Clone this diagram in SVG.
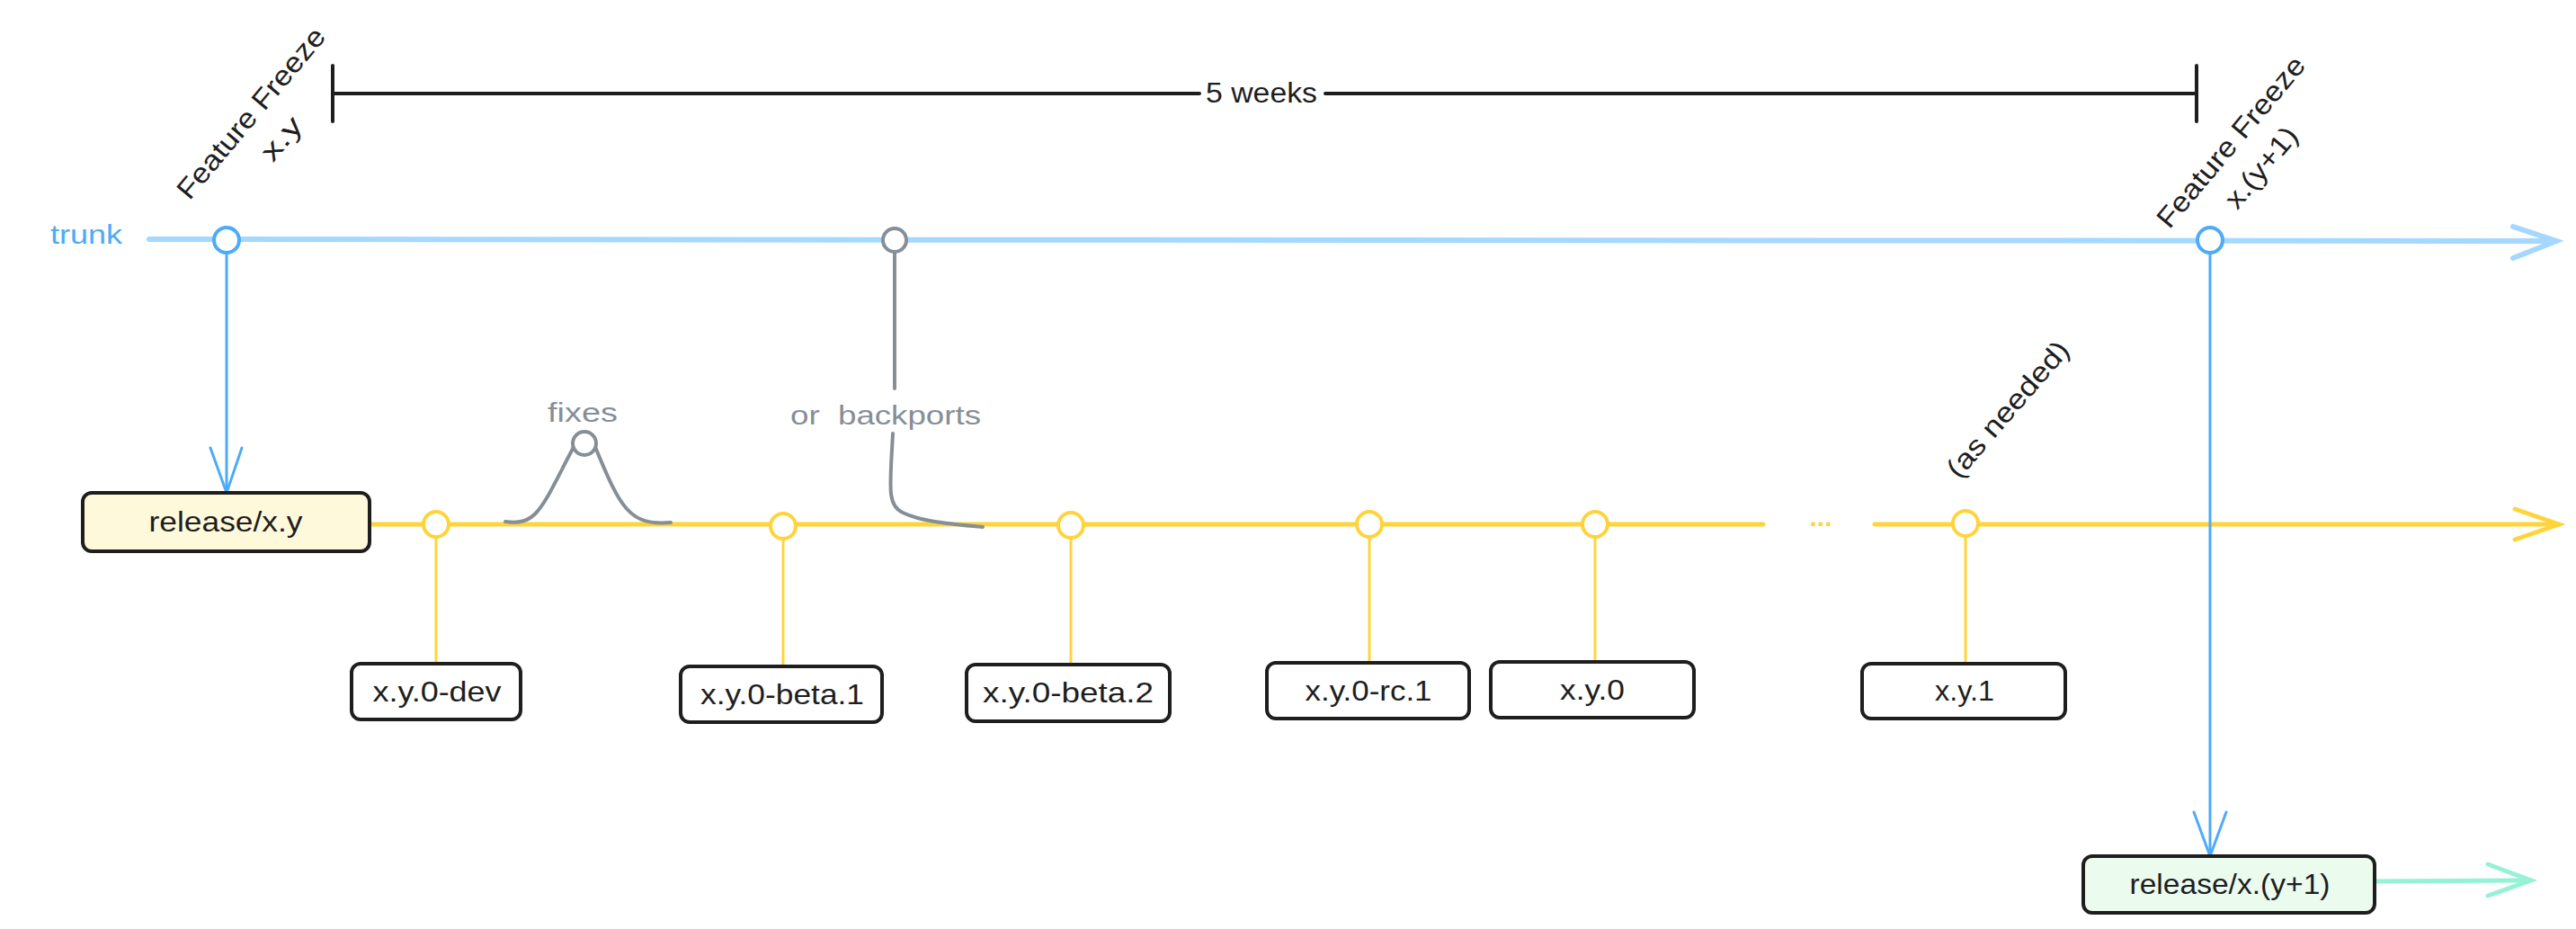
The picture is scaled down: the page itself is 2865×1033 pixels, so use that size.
<svg xmlns="http://www.w3.org/2000/svg" width="2865" height="1033" viewBox="0 0 2865 1033">
<style>
text{font-family:"Liberation Sans","DejaVu Sans",sans-serif;dominant-baseline:central}
.lbl{font-size:32px;fill:#1e1e1e;text-anchor:middle}
.hand{font-size:31px;fill:#1e1e1e;text-anchor:middle}
.gray{font-size:30px;fill:#868e96;text-anchor:middle}
.box{fill:#ffffff;stroke:#1e1e1e;stroke-width:4}
.trunk{fill:none;stroke:#a5d8ff;stroke-width:6;stroke-linecap:round}
.blue{fill:none;stroke:#4dabf7;stroke-width:3;stroke-linecap:round;stroke-linejoin:round}
.yel{fill:none;stroke:#ffd43b;stroke-width:5;stroke-linecap:round}
.yelthin{fill:none;stroke:#ffd43b;stroke-width:3}
.grayline{fill:none;stroke:#868e96;stroke-width:4;stroke-linecap:round}
.black{fill:none;stroke:#1e1e1e;stroke-width:4;stroke-linecap:round}
.green{fill:none;stroke:#96f2d7;stroke-width:5;stroke-linecap:round}
.cy{fill:#ffffff;stroke:#ffd43b;stroke-width:4}
.cb{fill:#ffffff;stroke:#4dabf7;stroke-width:4}
.cg{fill:#ffffff;stroke:#868e96;stroke-width:4}
</style>
<rect width="2865" height="1033" fill="#ffffff"/>

<g id="connectors">
  <!-- trunk line -->
  <line class="trunk" x1="166" y1="266" x2="2843" y2="268"/>
  <polyline class="trunk" points="2795,252 2843,268 2795,287"/>
  <!-- release line -->
  <line class="yel" x1="414" y1="583" x2="1961" y2="583"/>
  <line class="yel" x1="2085" y1="583" x2="2846" y2="583"/>
  <polyline class="yel" points="2797,566 2846,583 2797,600"/>
  <!-- blue branch arrows -->
  <line class="blue" x1="252" y1="283" x2="252" y2="548"/>
  <polyline class="blue" points="234,498 252,548 269,498"/>
  <line class="blue" x1="2458" y1="283" x2="2458" y2="952"/>
  <polyline class="blue" points="2440,903 2458,952 2476,903"/>
  <!-- green continuation -->
  <line class="green" x1="2642" y1="980" x2="2815" y2="979"/>
  <polyline class="green" points="2767,961 2815,979 2767,996"/>
  <!-- tag stems -->
  <line class="yelthin" x1="485" y1="598" x2="485" y2="738"/>
  <line class="yelthin" x1="871" y1="599" x2="871" y2="741"/>
  <line class="yelthin" x1="1191" y1="598" x2="1191" y2="739"/>
  <line class="yelthin" x1="1523" y1="598" x2="1523" y2="737"/>
  <line class="yelthin" x1="1774" y1="598" x2="1774" y2="736"/>
  <line class="yelthin" x1="2186" y1="597" x2="2186" y2="738"/>
  <!-- fixes / backports -->
  <path class="grayline" d="M562 580 C598 585 602 565 638 497"/>
  <path class="grayline" d="M662 497 C690 565 700 585 746 581"/>
  <line class="grayline" x1="995" y1="281" x2="995" y2="432"/>
  <path class="grayline" d="M993 482 C990 540 986 562 1004 570 C1025 580 1060 583 1093 586"/>
  <!-- 5 weeks bracket -->
  <line class="black" x1="370" y1="73" x2="370" y2="135"/>
  <line class="black" x1="370" y1="104" x2="1334" y2="104"/>
  <line class="black" x1="1474" y1="104" x2="2443" y2="104"/>
  <line class="black" x1="2443" y1="73" x2="2443" y2="135"/>
</g>

<g id="commits">
  <circle class="cb" cx="252" cy="267" r="14"/>
  <circle class="cg" cx="995" cy="267" r="13"/>
  <circle class="cb" cx="2458" cy="267" r="14"/>
  <circle class="cg" cx="650" cy="493" r="13"/>
  <circle class="cy" cx="485" cy="583" r="14"/>
  <circle class="cy" cx="871" cy="585" r="14"/>
  <circle class="cy" cx="1191" cy="584" r="14"/>
  <circle class="cy" cx="1523" cy="583" r="14"/>
  <circle class="cy" cx="1774" cy="583" r="14"/>
  <circle class="cy" cx="2186" cy="582" r="14"/>
</g>

<g id="label-trunk"><text x="56" y="261" style="font-size:29px;fill:#4dabf7" textLength="80" lengthAdjust="spacingAndGlyphs">trunk</text></g>
<g id="label-5weeks"><text class="hand" x="1403" y="103" textLength="124" lengthAdjust="spacingAndGlyphs">5 weeks</text></g>
<g id="label-ff-xy" transform="translate(296,140) rotate(-50)">
  <text class="hand" x="0" y="-22" textLength="238" lengthAdjust="spacingAndGlyphs">Feature Freeze</text>
  <text class="hand" x="0" y="22" textLength="54" lengthAdjust="spacingAndGlyphs">x.y</text>
</g>
<g id="label-ff-xy1" transform="translate(2498,172) rotate(-50)">
  <text class="hand" x="0" y="-22" textLength="238" lengthAdjust="spacingAndGlyphs">Feature Freeze</text>
  <text class="hand" x="0" y="22" textLength="108" lengthAdjust="spacingAndGlyphs">x.(y+1)</text>
</g>
<g id="label-asneeded" transform="translate(2233,455) rotate(-49)">
  <text class="hand" x="0" y="0" textLength="190" lengthAdjust="spacingAndGlyphs">(as needed)</text>
</g>
<g id="label-fixes"><text class="gray" x="648" y="458" textLength="78" lengthAdjust="spacingAndGlyphs">fixes</text></g>
<g id="label-backports"><text class="gray" x="985" y="461" textLength="212" lengthAdjust="spacingAndGlyphs" xml:space="preserve">or  backports</text></g>
<g id="label-dots"><text x="2025" y="574" style="font-size:30px;font-weight:bold;fill:#ffd43b;text-anchor:middle">...</text></g>

<g id="node-release-xy">
  <rect class="box" x="92" y="548" width="319" height="65" rx="10" style="fill:#fff9db"/>
  <text class="lbl" x="251" y="580" textLength="171" lengthAdjust="spacingAndGlyphs">release/x.y</text>
</g>
<g id="node-dev">
  <rect class="box" x="391" y="738" width="188" height="62" rx="10"/>
  <text class="lbl" x="486" y="769" textLength="143" lengthAdjust="spacingAndGlyphs">x.y.0-dev</text>
</g>
<g id="node-beta1">
  <rect class="box" x="757" y="741" width="224" height="62" rx="10"/>
  <text class="lbl" x="870" y="772" textLength="182" lengthAdjust="spacingAndGlyphs">x.y.0-beta.1</text>
</g>
<g id="node-beta2">
  <rect class="box" x="1075" y="739" width="226" height="63" rx="10"/>
  <text class="lbl" x="1188" y="770" textLength="190" lengthAdjust="spacingAndGlyphs">x.y.0-beta.2</text>
</g>
<g id="node-rc1">
  <rect class="box" x="1409" y="737" width="225" height="62" rx="10"/>
  <text class="lbl" x="1522" y="768" textLength="141" lengthAdjust="spacingAndGlyphs">x.y.0-rc.1</text>
</g>
<g id="node-xy0">
  <rect class="box" x="1658" y="736" width="226" height="62" rx="10"/>
  <text class="lbl" x="1771" y="767" textLength="72" lengthAdjust="spacingAndGlyphs">x.y.0</text>
</g>
<g id="node-xy1">
  <rect class="box" x="2071" y="738" width="226" height="61" rx="10"/>
  <text class="lbl" x="2185" y="768" textLength="66" lengthAdjust="spacingAndGlyphs">x.y.1</text>
</g>
<g id="node-release-xy1">
  <rect class="box" x="2317" y="952" width="324" height="63" rx="10" style="fill:#ebfbee"/>
  <text class="lbl" x="2480" y="983" textLength="223" lengthAdjust="spacingAndGlyphs">release/x.(y+1)</text>
</g>
</svg>
